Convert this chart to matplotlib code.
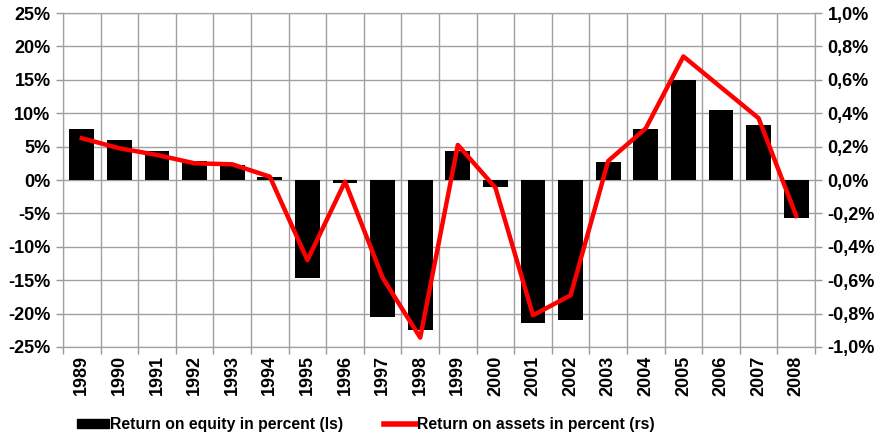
import matplotlib
matplotlib.use("Agg")
import matplotlib.pyplot as plt
from matplotlib.patches import Patch
from matplotlib.lines import Line2D
from matplotlib.ticker import FuncFormatter, MultipleLocator, FixedLocator

years = ['1989', '1990', '1991', '1992', '1993', '1994', '1995', '1996', '1997', '1998',
         '1999', '2000', '2001', '2002', '2003', '2004', '2005', '2006', '2007', '2008']
# return on equity, percent (left scale)
roe = [7.6, 6.0, 4.4, 2.8, 2.3, 0.45, -14.7, -0.4, -20.5, -22.4,
       4.3, -1.0, -21.4, -21.0, 2.7, 7.6, 15.0, 10.5, 8.2, -5.7]
# return on assets, percent (right scale)
roa = [0.25, 0.19, 0.15, 0.10, 0.094, 0.02, -0.48, -0.01, -0.585, -0.944,
       0.21, -0.046, -0.81, -0.69, 0.114, 0.31, 0.74, 0.555, 0.37, -0.215]

plt.rcParams['font.family'] = ['Liberation Sans', 'DejaVu Sans']
plt.rcParams['font.weight'] = 'bold'

fig = plt.figure(figsize=(8.79, 4.34), dpi=100)
ax = fig.add_axes([0.0717, 0.2005, 0.8555, 0.7695])
x = list(range(len(years)))
ax.bar(x, roe, width=0.66, color='black', zorder=3)
ax.set_xlim(-0.5, len(years) - 0.5)
ax.set_ylim(-25, 25)
ax.yaxis.set_major_locator(MultipleLocator(5))
ax.yaxis.set_major_formatter(FuncFormatter(lambda v, p: '%d%%' % round(v)))

ax.set_xticks(x)
ax.set_xticklabels(years, rotation=90, fontsize=13, fontweight='bold')
ax.xaxis.set_minor_locator(FixedLocator([i + 0.5 for i in range(-1, len(years))]))
ax.tick_params(axis='x', which='major', length=0, pad=6)
ax.tick_params(axis='x', which='minor', length=5, color='#999999', width=1)
ax.tick_params(axis='y', length=5, color='#999999', width=1, labelsize=13, pad=4)
ax.grid(axis='y', which='major', color='#a0a0a0', lw=1, zorder=0)
ax.grid(axis='x', which='minor', color='#a0a0a0', lw=1, zorder=0)
for s in ax.spines.values():
    s.set_color('#a0a0a0')

ax2 = ax.twinx()
ax2.plot(x, roa, color='#ff0000', lw=3.2, zorder=4)
ax2.set_ylim(-1.0, 1.0)
ax2.yaxis.set_major_locator(MultipleLocator(0.2))
ax2.yaxis.set_major_formatter(FuncFormatter(lambda v, p: ('%.1f%%' % v).replace('.', ',').replace('-0,0', '0,0')))
ax2.tick_params(axis='y', length=5, color='#999999', width=1, labelsize=13, pad=4)
for s in ax2.spines.values():
    s.set_color('#a0a0a0')

handles = [Patch(facecolor='black', edgecolor='black'),
           Line2D([0], [0], color='#ff0000', lw=4)]
labels = ['Return on equity in percent (ls)', 'Return on assets in percent (rs)']
fig.legend(handles, labels, loc='lower left', bbox_to_anchor=(0.072, -0.028), ncol=2,
           frameon=False, handlelength=2.0, handleheight=0.5,
           handletextpad=0.1, columnspacing=2.6, prop={'weight': 'bold', 'size': 11.3})

fig.savefig('out.png', dpi=100)
